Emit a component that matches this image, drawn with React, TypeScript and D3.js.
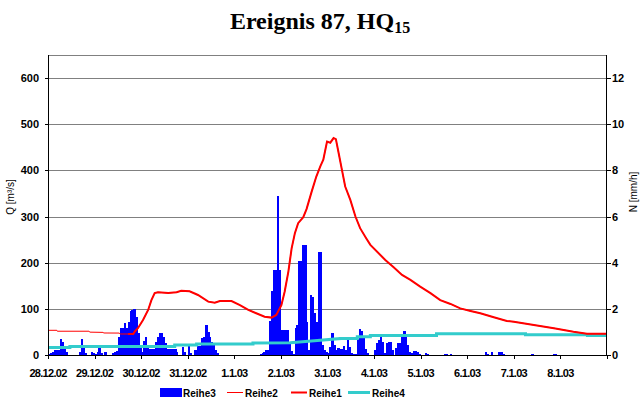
import React from "react";
import * as d3 from "d3";

const W = 643;
const H = 407;

const dayLabels = ["28.12.02", "29.12.02", "30.12.02", "31.12.02", "1.1.03", "2.1.03", "3.1.03", "4.1.03", "5.1.03", "6.1.03", "7.1.03", "8.1.03"];
const qTicks = [0, 100, 200, 300, 400, 500, 600];
const nTicks = [0, 2, 4, 6, 8, 10, 12];

// Reihe3: hourly rain intensity N [mm/h], 28.12.02 00:00 .. 8.1.03 23:00
const rain = [
  0.04, 0.09, 0.13, 0.22, 0.22, 0.22, 0.70, 0.57, 0.26, 0.13, 0, 0,
  0, 0, 0, 0, 0.13, 0.70, 0.30, 0.09, 0, 0, 0.13, 0.09,
  0.04, 0.13, 0.30, 0.09, 0, 0.13, 0, 0, 0, 0.09, 0.13, 0.17,
  0.78, 1.17, 1.17, 1.39, 1.17, 1.43, 1.91, 1.96, 2.00, 1.65, 0.96, 0.43,
  0.13, 0.61, 0.78, 0.30, 0.26, 0.26, 0.26, 0.57, 0.78, 0.96, 0.96, 0.78,
  0.52, 0.26, 0.26, 0.26, 0.26, 0.26, 0.13, 0, 0, 0.35, 0.13, 0,
  0.39, 0.09, 0, 0.22, 0.22, 0.39, 0.39, 0.74, 0.78, 1.30, 1.00, 0.78,
  0.57, 0.43, 0.22, 0.09, 0, 0, 0, 0, 0, 0, 0, 0,
  0, 0, 0, 0, 0, 0, 0, 0, 0, 0, 0, 0,
  0, 0.04, 0.09, 0.13, 0.22, 0.22, 1.48, 2.78, 3.70, 3.70, 6.87, 3.70,
  1.09, 1.09, 1.09, 1.09, 0.52, 0.17, 0.04, 1.17, 1.30, 4.09, 4.09, 4.78,
  4.78, 1.43, 0.22, 2.61, 2.52, 1.83, 1.43, 4.48, 4.48, 0.43, 0.22, 0.13,
  0.09, 0.35, 0.96, 0.43, 0.22, 0.30, 0.26, 0.26, 0.39, 0.22, 0.65, 0.35,
  0.09, 0.04, 0.04, 0.70, 1.13, 1.04, 0.74, 0.26, 0.09, 0, 0, 0,
  0.22, 0.52, 0.65, 0.78, 0.57, 0.09, 0.52, 0.57, 0.57, 0.22, 0, 0.30,
  0.52, 0.52, 0.78, 1.04, 0.91, 0.43, 0.13, 0.09, 0.17, 0.17, 0.13, 0.04,
  0, 0, 0.09, 0.04, 0, 0, 0, 0, 0, 0, 0, 0,
  0.04, 0.04, 0, 0.04, 0, 0, 0, 0, 0, 0, 0, 0,
  0, 0, 0, 0, 0, 0, 0, 0, 0, 0.13, 0.04, 0,
  0.13, 0, 0, 0, 0.13, 0.13, 0.04, 0, 0, 0, 0, 0,
  0, 0, 0, 0, 0, 0, 0, 0, 0, 0.04, 0, 0,
  0, 0, 0, 0, 0, 0, 0, 0, 0.04, 0.04, 0, 0,
  0, 0, 0, 0, 0, 0, 0, 0, 0, 0, 0, 0,
  0, 0, 0, 0, 0, 0, 0, 0, 0, 0, 0, 0,
];

// Discharge Q [m³/s], time in days since 28.12.02 00:00
const qDay = [0, 0.19, 0.2, 0.88, 0.9, 1.18, 1.2, 1.53, 1.55, 1.72, 1.83, 1.86, 1.93, 2.04, 2.15, 2.22, 2.29, 2.36, 2.58, 2.76, 2.86, 3.04, 3.22, 3.44, 3.58, 3.69, 3.94, 4.12, 4.30, 4.47, 4.65, 4.80, 4.90, 5.01, 5.08, 5.16, 5.23, 5.30, 5.37, 5.48, 5.55, 5.66, 5.76, 5.85, 5.91, 5.99, 6.06, 6.13, 6.18, 6.24, 6.31, 6.38, 6.49, 6.60, 6.70, 6.83, 6.92, 7.24, 7.42, 7.60, 7.78, 7.99, 8.21, 8.42, 8.64, 8.85, 9.07, 9.28, 9.57, 9.85, 10.0, 10.43, 10.86, 11.28, 11.57, 12.0];
const qVal = [53.5, 53.5, 51.5, 51.5, 49.5, 49, 47.7, 47.5, 45.5, 45.5, 45.5, 50.5, 58, 76, 97.6, 119, 134, 136, 134.5, 136, 139, 138, 130, 115.6, 113.4, 117, 117, 108, 97.6, 90.4, 83, 81, 86.7, 108, 137, 180.7, 231, 264, 285.6, 298.6, 316, 354, 386.7, 410, 423, 462.6, 460, 470, 467.8, 437, 401, 365, 336, 300, 274.8, 253, 238.6, 206, 190, 173.5, 162.6, 148, 134, 119, 110.6, 101, 95.4, 90.4, 81.7, 73.7, 72, 65, 58, 50.5, 46, 46];
const reihe1Start = 1.72;

// Reihe4 (stepped)
const r4Day = [0, 0.47, 0.47, 2.72, 2.72, 3.19, 3.19, 4.40, 4.40, 5.2, 5.72, 6.27, 6.27, 6.64, 6.64, 6.92, 6.92, 8.34, 8.34, 10.25, 10.25, 11.58, 11.58, 12];
const r4Val = [16, 16, 18.5, 18.5, 21.5, 21.5, 24, 24, 26, 26.5, 31, 35.5, 36, 36, 39.7, 39.7, 42, 42, 46, 46, 44, 44, 42, 42];

const legendItems = ["Reihe3", "Reihe2", "Reihe1", "Reihe4"];

const BLUE = "#0000ff";
const RED = "#ff0000";
const CYAN = "#33cccc";
const GRID = "#808080";

export default function App() {
  const x = d3.scaleLinear().domain([0, 12]).range([48, 607]);
  const yL = d3.scaleLinear().domain([0, 650]).range([355, 55]);
  const yR = d3.scaleLinear().domain([0, 13]).range([355, 55]);

  const qPts = qDay.map((d, i) => [d, qVal[i]] as [number, number]);
  const line = d3.line<[number, number]>().x((d) => x(d[0])).y((d) => yL(d[1]));
  const r2Path = line(qPts) || "";
  const r1Path = line(qPts.filter((p) => p[0] >= reihe1Start)) || "";
  const r4Path = line(r4Day.map((d, i) => [d, r4Val[i]] as [number, number])) || "";

  const days = d3.range(0, 13);
  const font = "'Liberation Sans', Arial, sans-serif";

  return (
    <svg width={W} height={H} style={{ position: "absolute", left: 0, top: 0, background: "#fff" }} fontFamily={font}>
      <rect x={0} y={0} width={W} height={H} fill="#fff" />
      <text x={320} y={29} textAnchor="middle" fontFamily="'Liberation Serif', 'Times New Roman', serif" fontWeight="bold" fontSize={24}>
        Ereignis 87, HQ<tspan fontSize={16} dy={4}>15</tspan>
      </text>

      {/* gridlines */}
      {qTicks.filter((t) => t > 0).map((t) => (
        <line key={"g" + t} x1={48} x2={607} y1={Math.round(yL(t)) + 0.5} y2={Math.round(yL(t)) + 0.5} stroke={GRID} strokeWidth={1} />
      ))}
      <line x1={48} x2={607} y1={55.5} y2={55.5} stroke={GRID} strokeWidth={1} />

      {/* Reihe3 bars */}
      {rain.map((v, i) =>
        v > 0 ? (
          <rect key={"b" + i} x={x(i / 24)} width={x((i + 1) / 24) - x(i / 24) + 0.4} y={yR(v)} height={yR(0) - yR(v)} fill={BLUE} shapeRendering="crispEdges" />
        ) : null
      )}

      {/* lines */}
      <path d={r4Path} fill="none" stroke={CYAN} strokeWidth={3} />
      <path d={r2Path} fill="none" stroke={RED} strokeWidth={1} />
      <path d={r1Path} fill="none" stroke={RED} strokeWidth={2} />

      {/* axes */}
      <line x1={48.5} x2={48.5} y1={55} y2={355} stroke="#000" />
      <line x1={606.5} x2={606.5} y1={55} y2={355} stroke="#000" />
      <line x1={45} x2={611} y1={355.5} y2={355.5} stroke="#000" />
      {qTicks.map((t) => (
        <g key={"l" + t}>
          <line x1={45} x2={48} y1={Math.round(yL(t)) + 0.5} y2={Math.round(yL(t)) + 0.5} stroke="#000" />
          <text x={39} y={yL(t) + 4} textAnchor="end" fontWeight="bold" fontSize={11}>{t}</text>
        </g>
      ))}
      {nTicks.map((t) => (
        <g key={"r" + t}>
          <line x1={607} x2={611} y1={Math.round(yR(t)) + 0.5} y2={Math.round(yR(t)) + 0.5} stroke="#000" />
          <text x={612} y={yR(t) + 4} textAnchor="start" fontWeight="bold" fontSize={11}>{t}</text>
        </g>
      ))}
      {days.map((d) => (
        <line key={"t" + d} x1={Math.round(x(d)) + 0.5} x2={Math.round(x(d)) + 0.5} y1={355} y2={359} stroke="#000" />
      ))}
      {dayLabels.map((l, i) => (
        <text key={"x" + i} x={x(i)} y={376.5} textAnchor="middle" fontWeight="bold" fontSize={11} letterSpacing={-0.7}>{l}</text>
      ))}

      <text transform="translate(14,197) rotate(-90)" textAnchor="middle" fontSize={10}>Q [m³/s]</text>
      <text transform="translate(637,192) rotate(-90)" textAnchor="middle" fontSize={10}>N [mm/h]</text>

      {/* legend */}
      <rect x={160} y={388} width={22} height={9} fill={BLUE} />
      <text x={183} y={397} fontSize={10} fontWeight="bold">{legendItems[0]}</text>
      <line x1={227} x2={243} y1={392.5} y2={392.5} stroke={RED} strokeWidth={1} />
      <text x={245} y={397} fontSize={10} fontWeight="bold">{legendItems[1]}</text>
      <line x1={291} x2={307} y1={392.5} y2={392.5} stroke={RED} strokeWidth={2} />
      <text x={309} y={397} fontSize={10} fontWeight="bold">{legendItems[2]}</text>
      <line x1={348} x2={370} y1={392.5} y2={392.5} stroke={CYAN} strokeWidth={3} />
      <text x={372} y={397} fontSize={10} fontWeight="bold">{legendItems[3]}</text>
    </svg>
  );
}
